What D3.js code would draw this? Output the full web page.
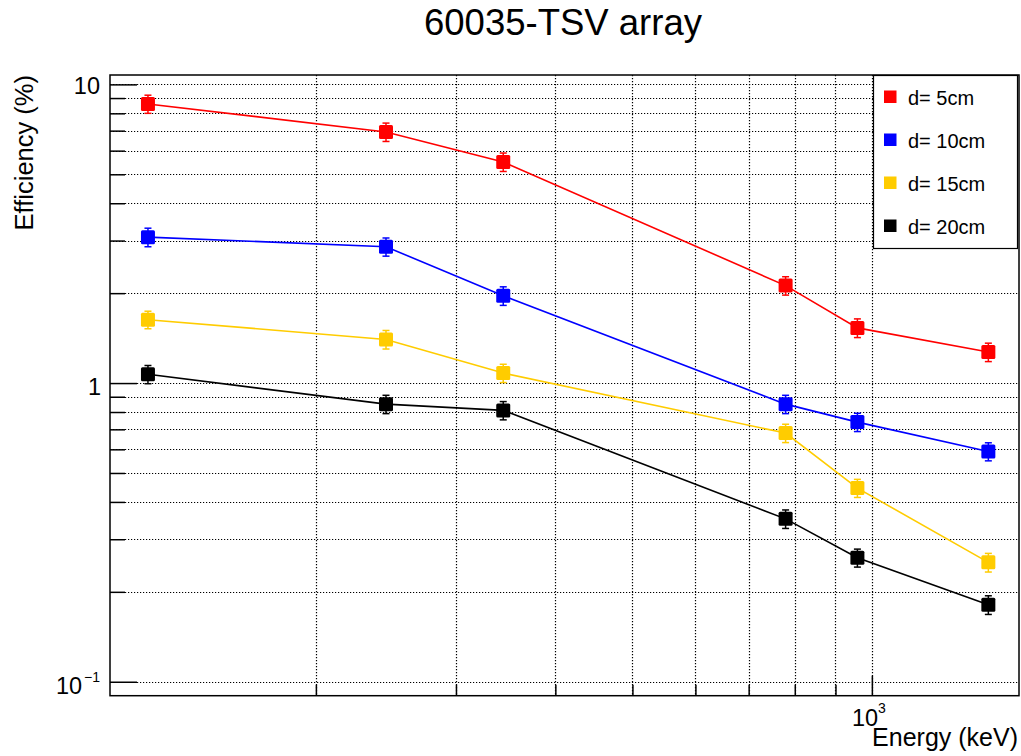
<!DOCTYPE html>
<html>
<head>
<meta charset="utf-8">
<script src="https://cdn.jsdelivr.net/npm/d3@7"></script>
<style>
  html, body { margin: 0; padding: 0; background: #fff; }
  svg { display: block; font-family: "Liberation Sans", Arial, Helvetica, sans-serif; }
</style>
</head>
<body>
<svg id="chart" width="1021" height="756"></svg>
<script>
// Photopeak energies (keV)
const energies = [123, 245, 344, 779, 959, 1401];

// Full-energy peak efficiency (%) at each source distance
const eff5cm  = [8.6, 6.93, 5.5, 2.12, 1.53, 1.27];
const eff10cm = [3.08, 2.86, 1.96, 0.85, 0.74, 0.59];
const eff15cm = [1.63, 1.40, 1.08, 0.68, 0.445, 0.251];
const eff20cm = [1.07, 0.85, 0.81, 0.351, 0.260, 0.181];

// Uncertainties (%)
const err5cm  = [0.60, 0.49, 0.39, 0.15, 0.11, 0.09];
const err10cm = [0.22, 0.20, 0.14, 0.06, 0.052, 0.041];
const err15cm = [0.11, 0.10, 0.076, 0.048, 0.031, 0.018];
const err20cm = [0.075, 0.06, 0.057, 0.025, 0.018, 0.013];

const seriesNames  = ["d= 5cm", "d= 10cm", "d= 15cm", "d= 20cm"];
const seriesColors = ["#ff0000", "#0000ff", "#ffcc00", "#000000"];

// Axis ticks
const yMajorTicks = [0.1, 1, 10];
const yMinorTicks = [0.2, 0.3, 0.4, 0.5, 0.6, 0.7, 0.8, 0.9, 2, 3, 4, 5, 6, 7, 8, 9];
const xMajorTicks = [1000];
const xMinorTicks = [200, 300, 400, 500, 600, 700, 800, 900];

const title  = "60035-TSV array";
const xTitle = "Energy (keV)";
const yTitle = "Efficiency (%)";

const series = [
  { name: seriesNames[0], color: seriesColors[0], y: eff5cm,  e: err5cm },
  { name: seriesNames[1], color: seriesColors[1], y: eff10cm, e: err10cm },
  { name: seriesNames[2], color: seriesColors[2], y: eff15cm, e: err15cm },
  { name: seriesNames[3], color: seriesColors[3], y: eff20cm, e: err20cm }
];

const padL = 110, padR = 1019, padT = 75, padB = 695.7;

const x = d3.scaleLog().domain([110.2, 1531]).range([padL, padR]);
const y = d3.scaleLog().domain([0.0898, 10.75]).range([padB, padT]);

const svg = d3.select("#chart");

// Dotted grid
const grid = svg.append("g")
  .attr("stroke", "#000")
  .attr("stroke-width", 1.2)
  .attr("stroke-dasharray", "1.2,1.8");
grid.selectAll("line.gy")
  .data(yMajorTicks.concat(yMinorTicks))
  .join("line")
  .attr("x1", padL).attr("x2", padR)
  .attr("y1", d => Math.round(y(d)) + 0.5).attr("y2", d => Math.round(y(d)) + 0.5);
grid.selectAll("line.gx")
  .data(xMajorTicks.concat(xMinorTicks))
  .join("line")
  .attr("y1", padT).attr("y2", padB)
  .attr("x1", d => Math.round(x(d)) + 0.5).attr("x2", d => Math.round(x(d)) + 0.5);

// Inward tick marks
function styleAxis(g) {
  g.select(".domain").remove();
  g.selectAll(".tick line").attr("stroke", "#000").attr("stroke-width", 1.5);
  g.selectAll(".tick text").remove();
}
svg.append("g").attr("transform", `translate(${padL},0)`)
  .call(d3.axisLeft(y).tickValues(yMajorTicks).tickSizeInner(-27).tickSizeOuter(0).tickFormat(""))
  .call(styleAxis);
svg.append("g").attr("transform", `translate(${padL},0)`)
  .call(d3.axisLeft(y).tickValues(yMinorTicks).tickSizeInner(-15).tickSizeOuter(0).tickFormat(""))
  .call(styleAxis);
svg.append("g").attr("transform", `translate(0,${padB})`)
  .call(d3.axisBottom(x).tickValues(xMajorTicks).tickSizeInner(-20).tickSizeOuter(0).tickFormat(""))
  .call(styleAxis);
svg.append("g").attr("transform", `translate(0,${padB})`)
  .call(d3.axisBottom(x).tickValues(xMinorTicks).tickSizeInner(-11).tickSizeOuter(0).tickFormat(""))
  .call(styleAxis);

// Frame
svg.append("rect")
  .attr("x", padL).attr("y", padT)
  .attr("width", padR - padL).attr("height", padB - padT)
  .attr("fill", "none").attr("stroke", "#000").attr("stroke-width", 1.5);

// Data: lines, error bars, square markers
const line = d3.line().x((d, i) => x(energies[i])).y(d => y(d));
const gData = svg.append("g");
series.forEach(s => {
  const g = gData.append("g");
  g.append("path")
    .attr("d", line(s.y))
    .attr("fill", "none").attr("stroke", s.color).attr("stroke-width", 1.6);
  const pts = s.y.map((v, i) => ({ xv: energies[i], v: v, e: s.e[i] }));
  g.selectAll("line.err").data(pts).join("line")
    .attr("x1", d => x(d.xv)).attr("x2", d => x(d.xv))
    .attr("y1", d => y(d.v + d.e)).attr("y2", d => y(d.v - d.e))
    .attr("stroke", s.color).attr("stroke-width", 1.5);
  [1, -1].forEach(sgn => {
    g.selectAll(null).data(pts).join("line")
      .attr("x1", d => x(d.xv) - 3.5).attr("x2", d => x(d.xv) + 3.5)
      .attr("y1", d => y(d.v + sgn * d.e)).attr("y2", d => y(d.v + sgn * d.e))
      .attr("stroke", s.color).attr("stroke-width", 1.5);
  });
  g.selectAll("rect").data(pts).join("rect")
    .attr("x", d => x(d.xv) - 7).attr("y", d => y(d.v) - 7)
    .attr("width", 14).attr("height", 14)
    .attr("rx", 1.5)
    .attr("fill", s.color);
});

// Tick labels
const lbl = svg.append("g").attr("fill", "#000");
lbl.append("text").attr("x", 100).attr("y", 94).attr("text-anchor", "end")
  .attr("font-size", 23.5).text("10");
lbl.append("text").attr("x", 101).attr("y", 395).attr("text-anchor", "end")
  .attr("font-size", 23.5).text("1");
lbl.append("text").attr("x", 56).attr("y", 694).attr("font-size", 23.5).text("10");
lbl.append("text").attr("x", 84).attr("y", 682).attr("font-size", 14).text("\u22121");
lbl.append("text").attr("x", 852).attr("y", 726).attr("font-size", 23.5).text("10");
lbl.append("text").attr("x", 878).attr("y", 713).attr("font-size", 14).text("3");

// Titles
svg.append("text").attr("x", 563).attr("y", 35).attr("text-anchor", "middle")
  .attr("font-size", 36.5).text(title);
svg.append("text").attr("x", 1018).attr("y", 746).attr("text-anchor", "end")
  .attr("font-size", 25).text(xTitle);
svg.append("text").attr("transform", "translate(32.5,75) rotate(-90)")
  .attr("text-anchor", "end").attr("font-size", 25.5).text(yTitle);

// Legend
const lg = svg.append("g");
lg.append("rect").attr("x", 873.5).attr("y", 75.5).attr("width", 144).attr("height", 173)
  .attr("fill", "#fff").attr("stroke", "#000").attr("stroke-width", 1.2);
const rowY = d3.scalePoint().domain(seriesNames).range([97, 226]);
series.forEach(s => {
  lg.append("rect").attr("x", 884).attr("y", rowY(s.name) - 6.5)
    .attr("width", 12.5).attr("height", 12.5).attr("fill", s.color);
  lg.append("text").attr("x", 908).attr("y", rowY(s.name) + 8)
    .attr("font-size", 20).text(s.name);
});
</script>
</body>
</html>
